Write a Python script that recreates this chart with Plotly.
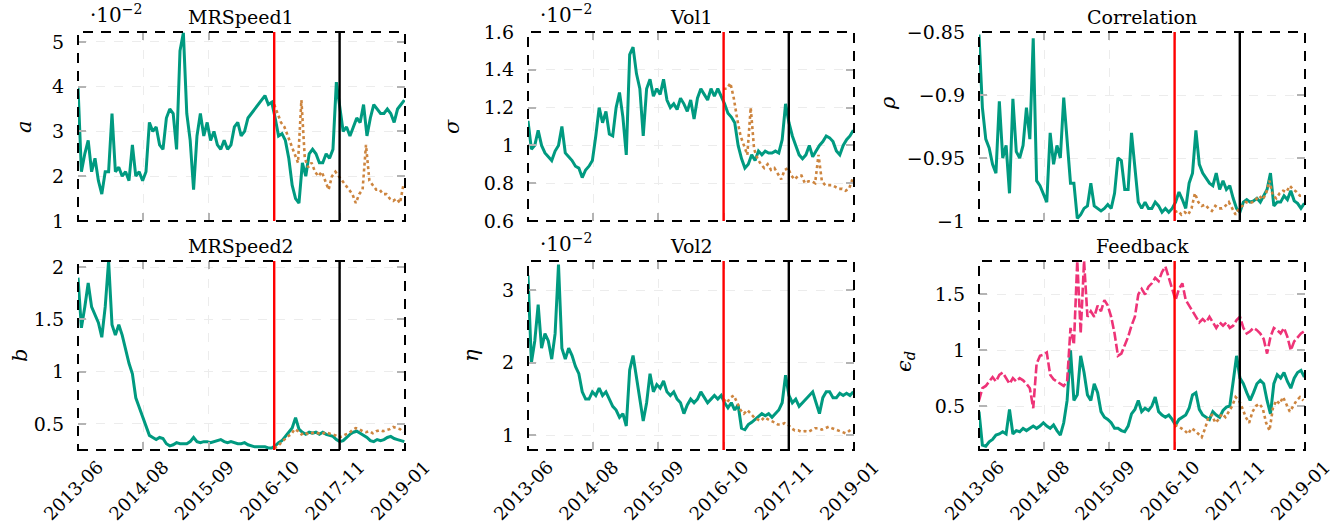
import pandas as pd
import plotly.graph_objects as go

# ---------------- data ----------------
START = "2013-06-25"
N_FIT = 97
N_PRED = 39
STEP = "21D"
EST_END = "2016-10-19"    # end of estimation window (red line)
TEST_END = "2017-11-27"   # end of test window (black line)
X_RANGE = ["2013-06-25", "2019-01-05"]
TICK_DATES = ["2013-06-25", "2014-08-03", "2015-09-11", "2016-10-19", "2017-11-27", "2019-01-05"]
TICK_LABELS = ["2013-06", "2014-08", "2015-09", "2016-10", "2017-11", "2019-01"]

a_fit = [4.0, 2.1, 2.5, 2.8, 2.1, 2.4, 1.9, 1.6, 2.1, 2.1,
         3.4, 2.1, 2.2, 2.0, 2.1, 1.9, 2.7, 2.0, 2.1, 1.9,
         2.1, 3.2, 3.0, 3.1, 2.7, 2.6, 3.3, 3.5, 3.4, 2.6,
         4.8, 5.2, 3.4, 2.8, 1.7, 2.9, 3.4, 2.9, 3.2, 2.8,
         3.0, 2.7, 2.6, 2.8, 2.6, 2.7, 3.1, 3.2, 2.9, 3.0,
         3.3, 3.4, 3.5, 3.6, 3.7, 3.8, 3.6, 3.65, 3.3, 2.9,
         2.95, 2.8, 2.4, 1.8, 1.5, 1.4, 2.3, 2.0, 2.5, 2.6,
         2.5, 2.3, 2.3, 2.5, 2.4, 2.6, 4.1, 3.5, 3.0, 3.1,
         2.9, 3.1, 3.3, 3.2, 3.6, 2.9, 3.3, 3.6, 3.5, 3.4,
         3.4, 3.5, 3.4, 3.2, 3.5, 3.6, 3.7]
a_pred = [3.6, 3.4, 3.2, 3.1, 2.9, 2.7, 2.5, 2.3, 3.7, 2.4,
          2.2, 2.3, 2.1, 2.0, 2.1, 1.9, 1.7, 2.0, 2.1, 2.0,
          1.9, 1.8, 1.7, 1.6, 1.4, 1.6, 1.7, 2.7, 1.9, 1.8,
          1.7, 1.7, 1.6, 1.6, 1.5, 1.45, 1.5, 1.4, 1.8]

sigma_fit = [1.13, 0.98, 1.0, 1.08, 1.0, 0.96, 0.94, 0.92, 0.97, 1.0,
             1.1, 0.96, 0.94, 0.92, 0.89, 0.88, 0.83, 0.87, 0.89, 0.92,
             1.05, 1.2, 1.12, 1.18, 1.06, 1.05, 1.2, 1.28, 1.15, 0.95,
             1.48, 1.52, 1.38, 1.3, 1.05, 1.3, 1.35, 1.26, 1.3, 1.27,
             1.35, 1.24, 1.2, 1.22, 1.19, 1.25, 1.22, 1.18, 1.24, 1.14,
             1.25, 1.3, 1.27, 1.24, 1.3, 1.26, 1.3, 1.26, 1.22, 1.17,
             1.15, 1.12, 1.0, 0.93, 0.88, 0.9, 0.95, 0.92, 0.97, 0.95,
             0.97, 0.96, 0.96, 0.97, 0.96, 1.03, 1.22, 1.12, 1.05, 1.0,
             0.95, 0.93, 0.95, 1.0, 0.94, 0.97, 1.0, 1.02, 1.05, 1.04,
             1.02, 0.97, 0.95, 1.0, 1.03, 1.05, 1.08]
sigma_pred = [1.3, 1.3, 1.33, 1.25, 1.14, 1.05, 1.0, 0.95, 1.2, 0.98,
              0.93, 0.9, 0.88, 0.9, 0.87, 0.88, 0.85, 0.82, 0.87, 0.88,
              0.84, 0.82, 0.84, 0.84, 0.8, 0.81, 0.81, 0.8, 0.95, 0.81,
              0.79, 0.79, 0.79, 0.78, 0.77, 0.77, 0.76, 0.77, 0.82]

rho_fit = [-0.852, -0.91, -0.935, -0.942, -0.955, -0.962, -0.905, -0.95, -0.94, -0.978,
           -0.903, -0.945, -0.95, -0.94, -0.91, -0.935, -0.855, -0.968, -0.972, -0.978,
           -0.985, -0.93, -0.955, -0.94, -0.95, -0.902, -0.935, -0.97, -0.97, -0.998,
           -0.995, -0.99, -0.988, -0.97, -0.988, -0.99, -0.992, -0.99, -0.987, -0.99,
           -0.978, -0.95, -0.952, -0.975, -0.975, -0.93, -0.955, -0.985, -0.99, -0.985,
           -0.99, -0.99, -0.985, -0.988, -0.993, -0.99, -0.993, -0.99, -0.985, -0.977,
           -0.983, -0.99, -0.97, -0.962, -0.928, -0.955, -0.962, -0.966, -0.97, -0.972,
           -0.962, -0.975, -0.968, -0.975, -0.972, -0.982, -0.99, -0.993, -0.985, -0.983,
           -0.985, -0.984, -0.982, -0.985, -0.98, -0.975, -0.962, -0.988, -0.985, -0.985,
           -0.98, -0.983, -0.976, -0.984, -0.986, -0.99, -0.986]
rho_pred = [-0.993, -0.992, -0.995, -0.993, -0.995, -0.99, -0.978, -0.985, -0.988, -0.987,
            -0.99, -0.992, -0.988, -0.99, -0.99, -0.988, -0.985, -0.99, -0.995, -0.99,
            -0.988, -0.985, -0.986, -0.985, -0.983, -0.98, -0.983, -0.978, -0.968, -0.98,
            -0.982, -0.978, -0.976, -0.977, -0.972, -0.975, -0.977, -0.98, -0.98]

b_fit = [1.9, 1.42, 1.62, 1.85, 1.62, 1.55, 1.47, 1.33, 1.62, 2.06,
         1.45, 1.35, 1.45, 1.35, 1.2, 1.08, 0.98, 0.75, 0.66, 0.57,
         0.47, 0.39, 0.37, 0.35, 0.37, 0.36, 0.31, 0.29, 0.3, 0.32,
         0.31, 0.31, 0.31, 0.33, 0.37, 0.33, 0.32, 0.33, 0.33, 0.32,
         0.33, 0.34, 0.35, 0.33, 0.32, 0.33, 0.32, 0.31, 0.31, 0.32,
         0.3, 0.29, 0.28, 0.28, 0.28, 0.28, 0.27, 0.27, 0.29, 0.32,
         0.34, 0.38, 0.42, 0.46, 0.56, 0.45, 0.42, 0.4, 0.42, 0.41,
         0.42, 0.4, 0.42, 0.4, 0.39, 0.38, 0.35, 0.33, 0.34, 0.37,
         0.4, 0.42, 0.43, 0.41, 0.39, 0.37, 0.34, 0.33, 0.35, 0.34,
         0.35, 0.37, 0.38, 0.36, 0.35, 0.34, 0.33]
b_pred = [0.27, 0.28, 0.32, 0.35, 0.38, 0.4, 0.45, 0.43, 0.4, 0.42,
          0.4, 0.41, 0.42, 0.41, 0.4, 0.42, 0.41, 0.4, 0.39, 0.37,
          0.38, 0.4, 0.41, 0.44, 0.46, 0.45, 0.43, 0.42, 0.43, 0.41,
          0.43, 0.44, 0.43, 0.44, 0.45, 0.47, 0.46, 0.45, 0.42]

eta_fit = [3.2, 2.0, 2.3, 2.8, 2.2, 2.4, 2.3, 2.05, 2.4, 3.35,
           2.2, 2.05, 2.2, 2.1, 1.95, 1.85, 1.6, 1.5, 1.5, 1.6,
           1.55, 1.65, 1.55, 1.6, 1.5, 1.4, 1.35, 1.25, 1.3, 1.13,
           1.9, 2.1, 1.8, 1.5, 1.2, 1.45, 1.85, 1.6, 1.7, 1.65,
           1.75, 1.6, 1.55, 1.6, 1.5, 1.45, 1.3, 1.42, 1.5, 1.45,
           1.5, 1.6, 1.52, 1.45, 1.5, 1.55, 1.5, 1.55, 1.45, 1.38,
           1.45, 1.35, 1.42, 1.1, 1.08, 1.15, 1.18, 1.22, 1.25, 1.3,
           1.27, 1.3, 1.25, 1.3, 1.35, 1.45, 1.83, 1.55, 1.45, 1.5,
           1.4, 1.45, 1.5, 1.55, 1.6, 1.45, 1.3, 1.52, 1.6, 1.6,
           1.52, 1.52, 1.58, 1.55, 1.58, 1.55, 1.6]
eta_pred = [1.5, 1.45, 1.52, 1.55, 1.45, 1.35, 1.3, 1.35, 1.3, 1.25,
            1.22, 1.2, 1.25, 1.22, 1.2, 1.18, 1.15, 1.15, 1.17, 1.15,
            1.1, 1.07, 1.07, 1.05, 1.06, 1.05, 1.08, 1.1, 1.1, 1.08,
            1.1, 1.12, 1.1, 1.08, 1.07, 1.05, 1.03, 1.06, 1.1]

eps_fit = [0.45, 0.15, 0.14, 0.18, 0.2, 0.24, 0.25, 0.27, 0.25, 0.47,
           0.25, 0.28, 0.27, 0.3, 0.28, 0.3, 0.32, 0.3, 0.32, 0.35,
           0.32, 0.3, 0.33, 0.28, 0.24, 0.35, 0.55, 1.0, 0.55, 0.6,
           0.95, 0.8, 0.6, 0.55, 0.7, 0.62, 0.45, 0.4, 0.38, 0.35,
           0.3, 0.3, 0.28, 0.27, 0.32, 0.43, 0.47, 0.55, 0.45, 0.48,
           0.46, 0.5, 0.58, 0.45, 0.42, 0.4, 0.42, 0.38, 0.33, 0.38,
           0.4, 0.42, 0.48, 0.6, 0.62, 0.47, 0.42, 0.4, 0.38, 0.45,
           0.42, 0.4, 0.46, 0.49, 0.5, 0.72, 0.95, 0.75, 0.7, 0.62,
           0.55, 0.62, 0.7, 0.73, 0.7, 0.55, 0.43, 0.7, 0.78, 0.75,
           0.8, 0.72, 0.66, 0.75, 0.8, 0.82, 0.76]
eps_other = [0.55, 0.66, 0.68, 0.72, 0.76, 0.72, 0.78, 0.8, 0.75, 0.7,
             0.75, 0.72, 0.75, 0.73, 0.7, 0.66, 0.48, 0.88, 0.95, 0.96,
             0.98, 0.78, 0.74, 0.72, 0.7, 0.68, 0.72, 1.2, 1.05, 1.8,
             1.15, 1.8, 1.3, 1.35, 1.3, 1.4, 1.35, 1.45, 1.4, 1.3,
             1.15, 0.95, 0.97, 1.05, 1.12, 1.22, 1.3, 1.5, 1.55, 1.5,
             1.57, 1.6, 1.65, 1.62, 1.7, 1.75, 1.65, 1.55, 1.45, 1.55,
             1.6, 1.45, 1.4, 1.35, 1.3, 1.25, 1.28, 1.25, 1.3, 1.25,
             1.2, 1.25, 1.22, 1.25, 1.2, 1.22, 1.27, 1.3, 1.2, 1.15,
             1.17, 1.2, 1.18, 1.15, 1.1, 0.97, 1.12, 1.2, 1.18, 1.15,
             1.2, 1.12, 1.0, 1.08, 1.12, 1.15, 1.17]
eps_pred = [0.33, 0.32, 0.3, 0.28, 0.25, 0.3, 0.28, 0.25, 0.22, 0.3,
            0.4, 0.42, 0.35, 0.38, 0.43, 0.4, 0.45, 0.5, 0.58, 0.55,
            0.48, 0.4, 0.35, 0.45, 0.5, 0.52, 0.48, 0.35, 0.28, 0.48,
            0.55, 0.52, 0.58, 0.52, 0.45, 0.5, 0.55, 0.58, 0.55]

TITLES = ["MRSpeed1", "Vol1", "Correlation", "MRSpeed2", "Vol2", "Feedback"]
YLABELS = ["<i>a</i>", "<i>σ</i>", "<i>ρ</i>", "<i>b</i>", "<i>η</i>", "<i>ϵ</i><sub><i>d</i></sub>"]
Y_RANGES = [[1, 5.22], [0.6, 1.6], [-1.0, -0.85], [0.25, 2.06], [0.8, 3.4], [0.106, 1.8]]
Y_TICKS = [[1, 2, 3, 4, 5], [0.6, 0.8, 1, 1.2, 1.4, 1.6], [-1, -0.95, -0.9, -0.85],
           [0.5, 1, 1.5, 2], [1, 2, 3], [0.5, 1, 1.5]]
EXPONENT = [True, True, False, False, True, False]
FITS = [a_fit, sigma_fit, rho_fit, b_fit, eta_fit, eps_fit]
PREDS = [a_pred, sigma_pred, rho_pred, b_pred, eta_pred, eps_pred]

# ---------------- style ----------------
W, H = 1335, 523
FONT = "DejaVu Serif"
TEAL = "#009a80"
ORANGE = "#cd853f"
PINK = "#ee3377"
COLS = [(78, 405), (528, 854), (979, 1305)]
ROWS = [(32, 221), (261, 450)]
YTITLE_X = [24, 452, 888, 20, 471, 905]
YTITLE_Y = [127, 127, 103, 356, 356, 362]

dates = pd.date_range(START, periods=N_FIT, freq=STEP)
pred_dates = pd.date_range(EST_END, periods=N_PRED, freq=STEP)

fig = go.Figure()
layout = dict(width=W, height=H, margin=dict(l=0, r=0, t=0, b=0),
              paper_bgcolor="white", plot_bgcolor="white", showlegend=False,
              font=dict(family=FONT, size=18, color="black"))
shapes, annotations = [], []

for k in range(6):
    r, c = divmod(k, 3)
    n = "" if k == 0 else str(k + 1)
    xl, xr = COLS[c]
    yt, yb = ROWS[r]
    xa, ya = "x" + n, "y" + n

    layout["xaxis" + n] = dict(
        domain=[xl / W, xr / W], anchor=ya, type="date", range=X_RANGE,
        tickmode="array", tickvals=TICK_DATES, ticktext=TICK_LABELS,
        showticklabels=(r == 1), tickangle=-45, ticklabelshift=20, ticklabelstandoff=2,
        ticks="inside", ticklen=8, tickwidth=2, tickcolor="#b4b4b4", mirror="ticks",
        showline=False, zeroline=False, showgrid=True, gridcolor="#ececec",
        griddash="dash", gridwidth=1, automargin=False,
        tickfont=dict(family=FONT, size=18, color="black"))
    layout["yaxis" + n] = dict(
        domain=[1 - yb / H, 1 - yt / H], anchor=xa, range=Y_RANGES[k],
        tickmode="array", tickvals=Y_TICKS[k],
        ticks="inside", ticklen=8, tickwidth=2, tickcolor="#b4b4b4", mirror="ticks",
        showline=False, zeroline=False, showgrid=True, gridcolor="#ececec",
        griddash="dash", gridwidth=1, automargin=False, ticklabelstandoff=13,
        tickfont=dict(family=FONT, size=19, color="black"))

    fig.add_trace(go.Scatter(x=dates, y=FITS[k], mode="lines", xaxis=xa, yaxis=ya,
                             line=dict(color=TEAL, width=3)))
    if k == 5:
        fig.add_trace(go.Scatter(x=dates, y=eps_other, mode="lines", xaxis=xa, yaxis=ya,
                                 line=dict(color=PINK, width=2.6, dash="9px,3px")))
    fig.add_trace(go.Scatter(x=pred_dates, y=PREDS[k], mode="lines", xaxis=xa, yaxis=ya,
                             line=dict(color=ORANGE, width=2.6, dash="dot")))

    for d, col in ((EST_END, "#ff0000"), (TEST_END, "black")):
        shapes.append(dict(type="line", xref=xa, yref=ya + " domain", x0=d, x1=d,
                           y0=0, y1=1, line=dict(color=col, width=2.4), layer="above"))
    shapes.append(dict(type="rect", xref=xa + " domain", yref=ya + " domain",
                       x0=0, x1=1, y0=0, y1=1, layer="above",
                       line=dict(color="black", width=2, dash="10px,8px")))

    annotations.append(dict(text=TITLES[k], xref="paper", yref="paper",
                            x=(xl + xr) / 2 / W, y=1 - (yt - 2) / H,
                            xanchor="center", yanchor="bottom", showarrow=False,
                            font=dict(family=FONT, size=19)))
    if EXPONENT[k]:
        annotations.append(dict(text="·10<sup>−2</sup>", xref="paper", yref="paper",
                                x=(xl + 10) / W, y=1 - (yt - 3) / H,
                                xanchor="left", yanchor="bottom", showarrow=False,
                                font=dict(family=FONT, size=20)))
    annotations.append(dict(text=YLABELS[k], xref="paper", yref="paper",
                            x=YTITLE_X[k] / W, y=1 - YTITLE_Y[k] / H,
                            xanchor="center", yanchor="middle", showarrow=False,
                            textangle=-90, font=dict(family=FONT, size=21)))

layout["shapes"] = shapes
layout["annotations"] = annotations
fig.update_layout(**layout)
fig.write_html("out.html")
